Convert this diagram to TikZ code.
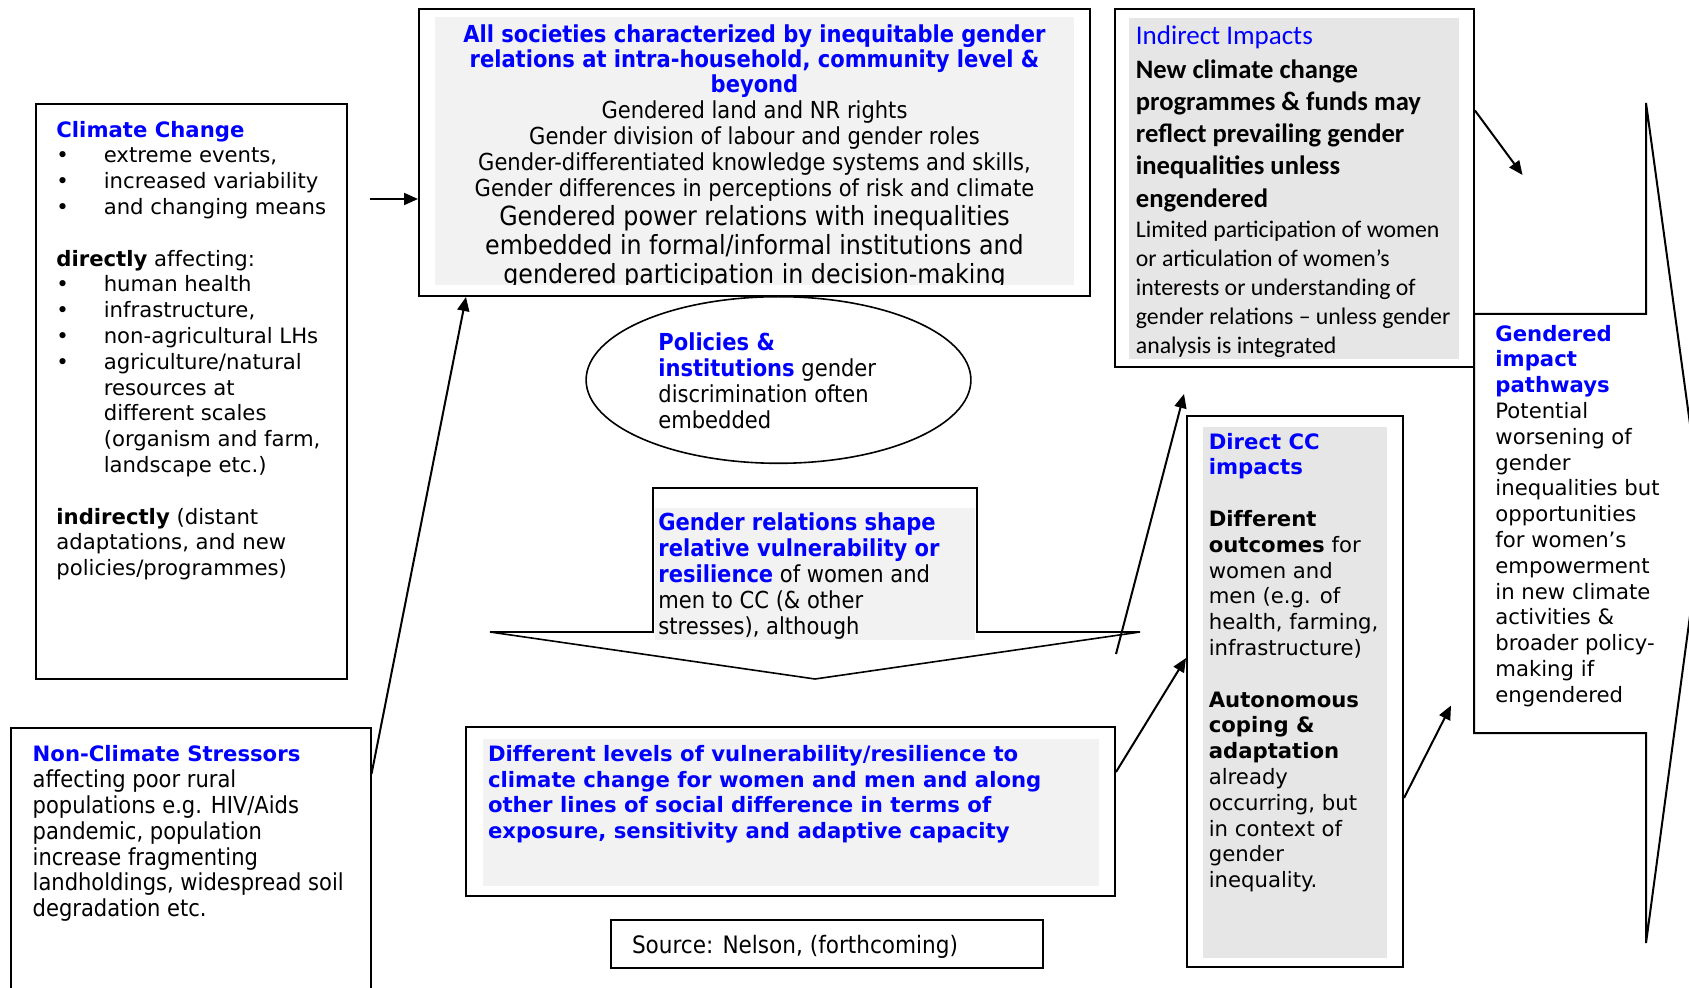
\documentclass[tikz,border=0pt]{standalone}
\usepackage{fontspec}
\setmainfont{DejaVu Sans}[Ligatures=CommonOff]
\newfontfamily\tahfont{DejaVu Sans Condensed}[Ligatures=CommonOff]
\newfontfamily\calfont{Carlito}
\usetikzlibrary{arrows.meta,shapes.geometric}

\definecolor{ccblue}{RGB}{0,0,255}
\definecolor{boxgrey}{RGB}{242,242,242}
\definecolor{dimgrey}{RGB}{230,230,230}

\newcommand{\bluebold}[1]{\textcolor{ccblue}{\bfseries #1}}
\newcommand{\blt}{\makebox[23.7pt][l]{\textbullet}}
\newcommand{\bltgap}{\hspace*{23.7pt}}

\tikzset{
    frame/.style={draw, line width=1pt, inner sep=0pt},
    outline/.style={draw, line width=0.8pt},
    txt/.style={anchor=north west, inner sep=0pt, align=left},
    ctxt/.style={anchor=north, inner sep=0pt, align=center},
    verd/.style={font=\fontsize{10.6}{12.9}\selectfont},
    tah/.style={font=\tahfont\fontsize{11.7}{12.9}\selectfont},
    arr/.style={-{Triangle[length=7pt,width=6pt]}, line width=1pt},
}

\begin{document}
\begin{tikzpicture}[x=0.5pt, y=-0.5pt]
    \useasboundingbox (0,0) rectangle (1689,988);

    \node[frame, minimum width=155.75pt, minimum height=287.25pt] (cc) at (191.25,391.75) {};
    \node[frame, minimum width=179.75pt, minimum height=141pt] (ncs) at (190.75,869) {};
    \node[frame, minimum width=335.5pt, minimum height=143.7pt] (soc) at (754.5,152.3) {};
    \node[frame, minimum width=179.5pt, minimum height=179.2pt] (ind) at (1294.5,187.8) {};
    \node[outline, ellipse, minimum width=192.4pt, minimum height=83.3pt] (pol) at (778.5,380) {};
    \node[frame, minimum width=324.5pt, minimum height=84.25pt] (diff) at (790.5,811.25) {};
    \node[frame, minimum width=216pt, minimum height=24pt] (src) at (827,944) {};
    \node[frame, minimum width=108pt, minimum height=275.5pt] (dcc) at (1295,691.5) {};

    % down arrow round the gender relations text
    \draw[line width=0.8pt] (653,488) -- (977,488) -- (977,632) -- (1140,632)
        -- (815,679) -- (490,632) -- (653,632) -- cycle;
    % right arrow round the pathways text
    \draw[line width=1pt] (1474,314) -- (1646,314) -- (1646,103) -- (1703,519)
        -- (1646,943) -- (1646,733) -- (1474,733) -- cycle;

    %%%%%%%%%%%%%%%%%%%%%%%%%%%%%%%%%%%%%%%%

    \fill[boxgrey] (435,17) rectangle (1074,285);
    \fill[dimgrey] (1129,18) rectangle (1459,359);
    \fill[boxgrey] (655,508) rectangle (975,640);
    \fill[boxgrey] (483,739) rectangle (1099,885.7);
    \fill[dimgrey] (1202.6,427) rectangle (1387,958);

    \node[txt, verd] (ccT) at (56,120.6) {\bluebold{Climate Change}\\
        \blt extreme events,\\
        \blt increased variability\\
        \blt and changing means\\[12.9pt]
        \textbf{directly} affecting:\\
        \blt human health\\
        \blt infrastructure,\\
        \blt non-agricultural LHs\\
        \blt agriculture/natural\\
        \bltgap resources at\\
        \bltgap different scales\\
        \bltgap (organism and farm,\\
        \bltgap landscape etc.)\\[12.9pt]
        \textbf{indirectly} (distant\\
        adaptations, and new\\
        policies/programmes)};

    \node[txt, verd] (ncsT) at (32.3,744.6) {\bluebold{Non-Climate Stressors}};
    \node[txt, tah] (ncsB) at (32.3,769.5) {affecting poor rural\\
        populations e.g. HIV/Aids\\
        pandemic, population\\
        increase fragmenting\\
        landholdings, widespread soil\\
        degradation etc.};

    \node[ctxt, text=ccblue, font=\tahfont\bfseries\fontsize{11.7}{12.65}\selectfont] (socT) at (754.5,24.1)
        {All societies characterized by inequitable gender\\
        relations at intra-household, community level \&\\
        beyond};
    \node[ctxt, tah] (socB) at (754.5,100.6) {Gendered land and NR rights\\
        Gender division of labour and gender roles\\
        Gender-differentiated knowledge systems and skills,\\
        Gender differences in perceptions of risk and climate};
    \begin{scope}
        \clip (435,17) rectangle (1074,285);
        \node[ctxt, font=\tahfont\fontsize{13.2}{14.55}\selectfont] (socC) at (754.5,204.9)
            {Gendered power relations with inequalities\\
            embedded in formal/informal institutions and\\
            gendered participation in decision-making};
    \end{scope}

    \node[txt, text=ccblue, font=\calfont\fontsize{13.5}{16}\selectfont] (indT) at (1135.5,25.3) {Indirect Impacts};
    \node[txt, font=\calfont\bfseries\fontsize{13.3}{16.15}\selectfont] (indB) at (1135.5,59) {New climate change\\
        programmes \& funds may\\
        reflect prevailing gender\\
        inequalities unless\\
        engendered};
    \node[txt, font=\calfont\fontsize{11.9}{14.55}\selectfont] (indC) at (1135.5,220.4) {Limited participation of women\\
        or articulation of women’s\\
        interests or understanding of\\
        gender relations – unless gender\\
        analysis is integrated};

    \node[txt, font=\tahfont\fontsize{11.7}{13.1}\selectfont] (polT) at (658,332.2) {\bluebold{Policies \&}\\
        \bluebold{institutions} gender\\
        discrimination often\\
        embedded};

    \node[txt, font=\tahfont\fontsize{11.7}{13.05}\selectfont] (grelT) at (658,512.1) {\bluebold{Gender relations shape}\\
        \bluebold{relative vulnerability or}\\
        \bluebold{resilience} of women and\\
        men to CC (\& other\\
        stresses), although};

    \node[txt, text=ccblue, font=\bfseries\fontsize{10.6}{12.8}\selectfont] (diffT) at (487.6,744.9)
        {Different levels of vulnerability/resilience to\\
        climate change for women and men and along\\
        other lines of social difference in terms of\\
        exposure, sensitivity and adaptive capacity};

    \node[txt, font=\tahfont\fontsize{12}{14}\selectfont] (srcT) at (631.6,934.5) {Source: Nelson, (forthcoming)};

    \node[txt, verd] (dccT) at (1208.4,432.6) {\bluebold{Direct CC}\\
        \bluebold{impacts}\\[12.9pt]
        \textbf{Different}\\
        \textbf{outcomes} for\\
        women and\\
        men (e.g. of\\
        health, farming,\\
        infrastructure)\\[12.9pt]
        \textbf{Autonomous}\\
        \textbf{coping \&}\\
        \textbf{adaptation}\\
        already\\
        occurring, but\\
        in context of\\
        gender\\
        inequality.};

    \node[txt, verd] (gipT) at (1495,324.6) {\bluebold{Gendered}\\
        \bluebold{impact}\\
        \bluebold{pathways}\\
        Potential\\
        worsening of\\
        gender\\
        inequalities but\\
        opportunities\\
        for women’s\\
        empowerment\\
        in new climate\\
        activities \&\\
        broader policy-\\
        making if\\
        engendered};

    %%%%%%%%%%%%%%%%%%%%%%%%%%%%%%%%%%%%%%%%

    \coordinate (ccout) at (370,199);
    \coordinate (gipin) at (1451,705.5);
    \coordinate (gipup) at (1522.5,175);

    \draw[arr] (ccout) -- (soc.west |- ccout);
    \draw[arr] ([yshift=-23.5pt]ncs.north east) -- ([xshift=24pt]soc.south west);
    \draw[arr] ([yshift=36pt]diff.north east) -- ([xshift=35pt,yshift=-13pt]ind.south west);
    \draw[arr] ([yshift=-23pt]diff.north east) -- ([yshift=-121.5pt]dcc.north west);
    \draw[arr] ([yshift=-191.5pt]dcc.north east) -- (gipin);
    \draw[arr] ([yshift=-51.5pt]ind.north east) -- (gipup);

\end{tikzpicture}
\end{document}
